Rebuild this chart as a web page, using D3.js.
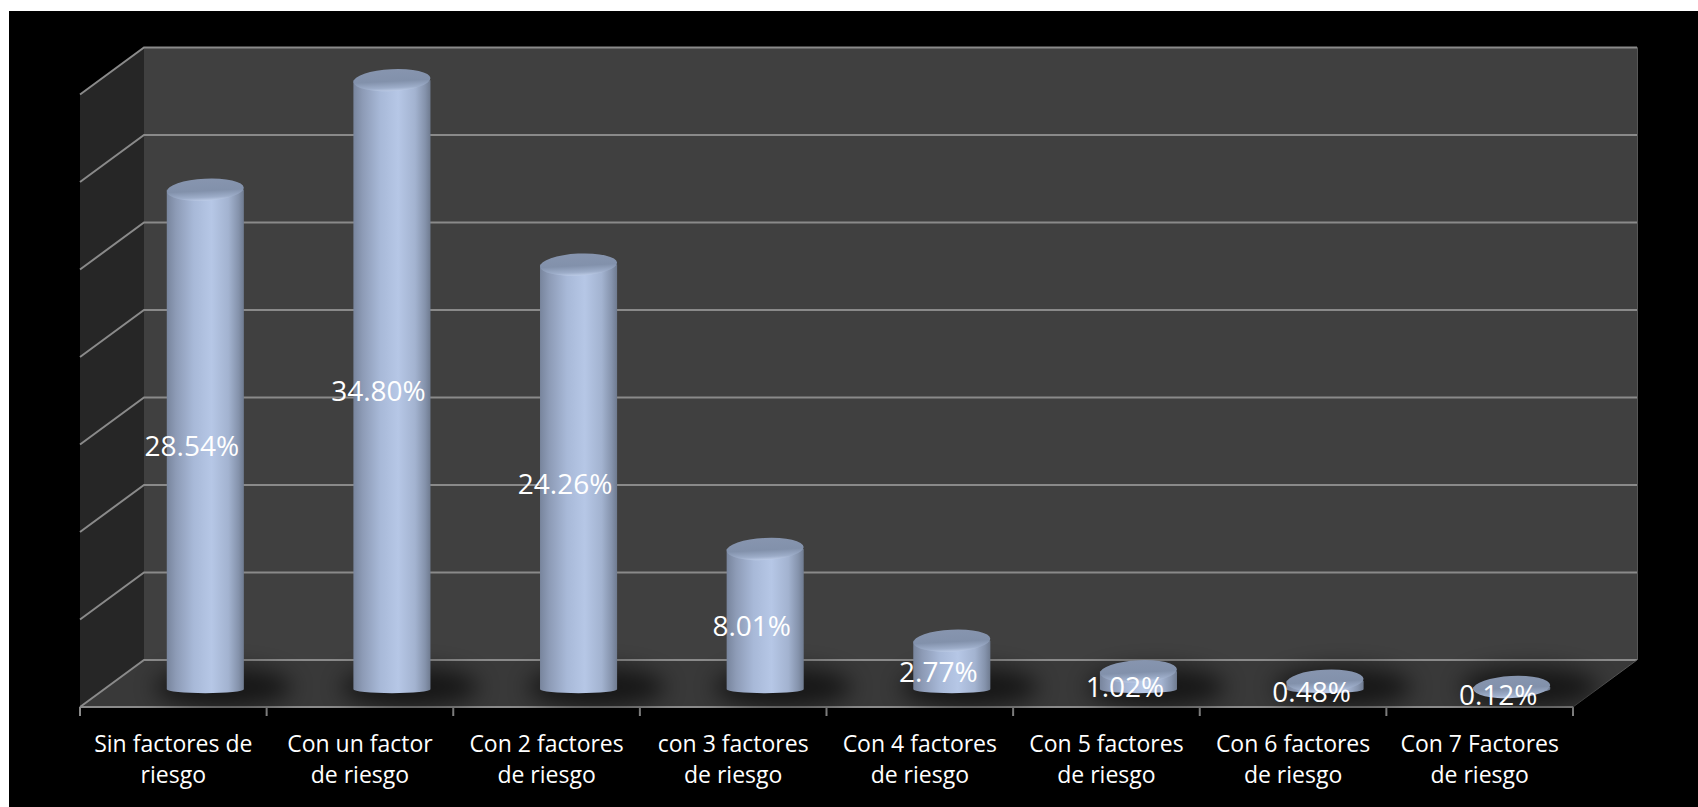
<!DOCTYPE html>
<html>
<head>
<meta charset="utf-8">
<script src="https://cdn.jsdelivr.net/npm/d3@7"></script>
<style>
  html, body { margin: 0; padding: 0; background: #fff; }
  svg { display: block; }
</style>
</head>
<body>
<script>
// data
let categories = [
    ["Sin factores de", "riesgo"],
    ["Con un factor", "de riesgo"],
    ["Con 2 factores", "de riesgo"],
    ["con 3 factores", "de riesgo"],
    ["Con 4 factores", "de riesgo"],
    ["Con 5 factores", "de riesgo"],
    ["Con 6 factores", "de riesgo"],
    ["Con 7 Factores", "de riesgo"]
]
let values = [28.54, 34.80, 24.26, 8.01, 2.77, 1.02, 0.48, 0.12]
let gridTicks = [0, 5, 10, 15, 20, 25, 30, 35]

let width = 1698, height = 807

// 3d frame: front plane + depth offset
let front = { left: 80, right: 1573, bottom: 707, top: 94.5 }
let DX = 64, DY = 47

let x = d3.scaleBand()
    .domain(d3.range(values.length))
    .range([front.left, front.right])
    .paddingInner(0.587)
    .paddingOuter(0.2935)

let y = d3.scaleLinear()
    .domain([0, 35])
    .range([front.bottom, front.top])

// project a point at depth d (0 = front, 1 = back)
let px = (xv, d) => xv + d * DX
let py = (yv, d) => yv - d * DY

let fmt = d => d3.format(".2f")(d) + "%"

let svg = d3.select("body").append("svg")
    .attr("width", width)
    .attr("height", height)

let defs = svg.append("defs")

let bodyGrad = defs.append("linearGradient")
    .attr("id", "bodyGrad")
    .attr("x1", "0%").attr("x2", "100%").attr("y1", "0%").attr("y2", "0%")
let bodyStops = [
    [0, "#78859d"], [0.12, "#8d9bb6"], [0.35, "#a8b9d8"], [0.58, "#b6c7e6"],
    [0.8, "#a3b3d0"], [0.93, "#8593ac"], [1, "#6f7b90"]
]
bodyStops.forEach(s => bodyGrad.append("stop").attr("offset", s[0]).attr("stop-color", s[1]))

let topGrad = defs.append("linearGradient")
    .attr("id", "topGrad")
    .attr("x1", "0%").attr("x2", "0%").attr("y1", "0%").attr("y2", "100%")
let topStops = [[0, "#8795af"], [0.55, "#8291ab"], [0.85, "#9dadc9"], [1, "#bccbe6"]]
topStops.forEach(s => topGrad.append("stop").attr("offset", s[0]).attr("stop-color", s[1]))

defs.append("filter")
    .attr("id", "blur")
    .attr("x", "-50%").attr("y", "-100%").attr("width", "200%").attr("height", "300%")
    .append("feGaussianBlur")
    .attr("stdDeviation", 11)

// background
svg.append("rect")
    .attr("x", 9).attr("y", 11)
    .attr("width", width - 9).attr("height", height - 11)
    .attr("fill", "#000")

let y0 = y(0), yTop = y(35)

// side wall
svg.append("polygon")
    .attr("points", [
        [front.left, y0], [px(front.left, 1), py(y0, 1)],
        [px(front.left, 1), py(yTop, 1)], [front.left, yTop]
    ].join(" "))
    .attr("fill", "#262626")

// back wall
svg.append("rect")
    .attr("x", px(front.left, 1))
    .attr("y", py(yTop, 1))
    .attr("width", front.right - front.left + 1)
    .attr("height", y0 - yTop)
    .attr("fill", "#404040")
svg.append("line")
    .attr("x1", px(front.right, 1) + 0.5).attr("x2", px(front.right, 1) + 0.5)
    .attr("y1", py(yTop, 1)).attr("y2", py(y0, 1))
    .attr("stroke", "#575757")

// floor
svg.append("polygon")
    .attr("points", [
        [front.left, y0], [front.right, y0],
        [px(front.right, 1), py(y0, 1)], [px(front.left, 1), py(y0, 1)]
    ].join(" "))
    .attr("fill", "#393939")

// gridlines
let grid = svg.append("g")
    .attr("stroke", "#8a8a8a")
    .attr("stroke-width", 2)
    .attr("fill", "none")

grid.selectAll("path.grid")
    .data(gridTicks)
    .enter().append("path")
    .attr("class", "grid")
    .attr("d", t => {
        let yy = y(t)
        return "M" + front.left + "," + yy +
            "L" + px(front.left, 1) + "," + py(yy, 1) +
            "L" + px(front.right, 1) + "," + py(yy, 1)
    })

// front axis + right floor edge
grid.append("path")
    .attr("d", "M" + front.left + "," + y0 + "L" + front.right + "," + y0)
svg.append("path")
    .attr("d", "M" + front.right + "," + y0 + "L" + px(front.right, 1) + "," + py(y0, 1))
    .attr("stroke", "#555")
    .attr("stroke-width", 1)

let tickX = d3.range(values.length + 1).map(i => front.left + i * x.step())
grid.selectAll("line.tick")
    .data(tickX)
    .enter().append("line")
    .attr("class", "tick")
    .attr("x1", d => d).attr("x2", d => d)
    .attr("y1", y0).attr("y2", y0 + 9)

// cylinders
let rx = x.bandwidth() / 2, ryTop = 11, ryBot = 4
let barDepthX = 0.5, barDepthY = 0.38
let bars = svg.append("g").selectAll("g.bar")
    .data(values)
    .enter().append("g")
    .attr("class", "bar")

let cxOf = i => px(x(i) + rx, barDepthX)
let ybOf = () => py(y(0), barDepthY)
let ytOf = v => py(y(v), barDepthY)

// shadows
bars.append("ellipse")
    .attr("cx", (d, i) => cxOf(i) + 18)
    .attr("cy", () => ybOf() - 2)
    .attr("rx", rx + 30)
    .attr("ry", 20)
    .attr("fill", "#000")
    .attr("opacity", 0.6)
    .attr("filter", "url(#blur)")

bars.append("path")
    .attr("d", (d, i) => {
        let cx = cxOf(i), yb = ybOf(), yt = ytOf(d)
        return "M" + (cx - rx) + "," + yt +
            "L" + (cx - rx) + "," + yb +
            "A" + rx + "," + ryBot + " 0 0 0 " + (cx + rx) + "," + yb +
            "L" + (cx + rx) + "," + yt + "Z"
    })
    .attr("fill", "url(#bodyGrad)")

bars.append("ellipse")
    .attr("cx", (d, i) => cxOf(i))
    .attr("cy", d => ytOf(d))
    .attr("rx", rx)
    .attr("ry", ryTop)
    .attr("transform", (d, i) => "rotate(-3," + cxOf(i) + "," + ytOf(d) + ")")
    .attr("fill", "url(#topGrad)")

// value labels
svg.append("g").selectAll("text")
    .data(values)
    .enter().append("text")
    .attr("x", (d, i) => px(x(i) + rx, 0.29))
    .attr("y", d => py(y(d / 2), 0.26))
    .attr("text-anchor", "middle")
    .attr("dominant-baseline", "central")
    .attr("fill", "#fff")
    .style("font-family", "'Open Sans', sans-serif")
    .style("font-size", "28px")
    .text(fmt)

// category labels
let catG = svg.append("g").selectAll("text")
    .data(categories)
    .enter().append("text")
    .attr("x", (d, i) => x(i) + rx)
    .attr("y", 752)
    .attr("text-anchor", "middle")
    .attr("fill", "#fff")
    .style("font-family", "'Open Sans', sans-serif")
    .style("font-size", "23px")

catG.selectAll("tspan")
    .data(d => d)
    .enter().append("tspan")
    .attr("x", function () { return d3.select(this.parentNode).attr("x") })
    .attr("dy", (d, i) => i === 0 ? 0 : 31)
    .text(d => d)
</script>
</body>
</html>
